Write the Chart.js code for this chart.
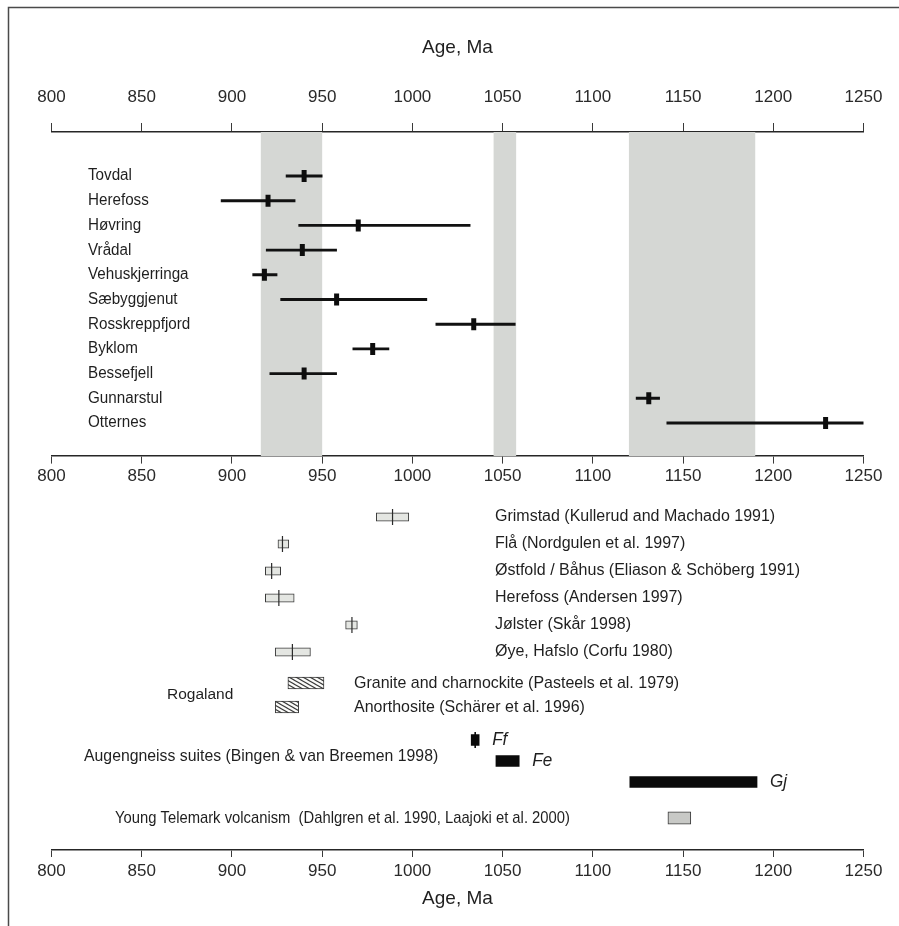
<!DOCTYPE html>
<html>
<head>
<meta charset="utf-8">
<script src="https://cdn.jsdelivr.net/npm/chart.js@4/dist/chart.umd.min.js"></script>
<style>
  html, body { margin: 0; padding: 0; background: #fff; }
  #wrap { width: 899px; height: 926px; }
</style>
</head>
<body>
<div id="wrap"><canvas id="chart" width="899" height="926"></canvas></div>
<script>
// ---- Age axis (Ma) ----
const AGE_MIN = 800;
const AGE_MAX = 1250;
const AGE_STEP = 50;

// ---- Dated intrusions: age with lower / upper limit of the error bar (Ma) ----
const samples = ['Tovdal', 'Herefoss', 'Høvring', 'Vrådal', 'Vehuskjerringa', 'Sæbyggjenut',
                 'Rosskreppfjord', 'Byklom', 'Bessefjell', 'Gunnarstul', 'Otternes'];
const sampleAge  = [940, 920, 970, 939, 918, 958, 1034, 978, 940, 1131, 1229];
const sampleLow  = [930, 894, 937, 919, 911.5, 927, 1013, 967, 921, 1124, 1141];
const sampleHigh = [950, 935, 1032, 958, 925, 1008, 1057, 987, 958, 1137, 1251];

// ---- Shaded age clusters (Ma) ----
const bandStart = [916, 1045, 1120];
const bandEnd   = [950, 1057.5, 1190];

// ---- Published ages: range box and central value (Ma) ----
const refLabels = ['Grimstad (Kullerud and Machado 1991)', 'Flå (Nordgulen et al. 1997)',
                   'Østfold / Båhus (Eliason & Schöberg 1991)', 'Herefoss (Andersen 1997)',
                   'Jølster (Skår 1998)', 'Øye, Hafslo (Corfu 1980)'];
const refAge  = [989, 928, 922, 926, 966.5, 933.5];
const refLow  = [980, 925.5, 918.5, 918.5, 963, 924];
const refHigh = [998, 931.5, 927, 934.5, 969.5, 943.5];

// ---- Rogaland ----
const rogLabels = ['Granite and charnockite (Pasteels et al. 1979)', 'Anorthosite (Schärer et al. 1996)'];
const rogLow  = [931, 924];
const rogHigh = [951, 937];

// ---- Augengneiss suites ----
const augLabels = ['Ff', 'Fe', 'Gj'];
const augLow  = [1032.6, 1046.3, 1120.5];
const augHigh = [1037, 1059.2, 1191];

// ---- Young Telemark volcanism ----
const ytLabel = 'Young Telemark volcanism  (Dahlgren et al. 1990, Laajoki et al. 2000)';
const ytLow  = [1141.6];
const ytHigh = [1154.3];

// ---- Layout (pixels) ----
const W = 899, H = 926;
const AREA_TOP = 132, AREA_BOTTOM = 850, MID_AXIS = 456;
const FONT = "'Liberation Sans', Arial, Helvetica, sans-serif";
const INK = '#1f1f1f';

// hidden row scale: row 0 sits at firstPx, following rows every `step` pixels
function rowScale(firstPx, step) {
  const min = -(firstPx - AREA_TOP) / step;
  return {
    type: 'linear', display: false, reverse: true, offset: false,
    min, max: min + (AREA_BOTTOM - AREA_TOP) / step
  };
}

function ageAxis(position, tickLength, padding, extra) {
  return Object.assign({
    type: 'linear',
    position,
    offset: false,
    min: AGE_MIN,
    max: AGE_MAX,
    ticks: {
      stepSize: AGE_STEP,
      autoSkip: false,
      maxRotation: 0,
      padding,
      color: '#2a2a2a',
      font: { family: FONT, size: 17 },
      callback: (v) => String(v)
    },
    grid: { display: true, drawOnChartArea: false, drawTicks: true, tickLength, color: '#3a3a3a', lineWidth: 1 },
    border: { display: true, color: '#262626', width: 1.6 }
  }, extra || {});
}

// horizontal range bars centred on their own row, fixed pixel thickness
function rangeBars(xAxisID, yAxisID, data, thickness, style) {
  return Object.assign({
    type: 'bar', indexAxis: 'y', xAxisID, yAxisID, data,
    grouped: false, categoryPercentage: 1, barPercentage: 1, maxBarThickness: thickness,
    borderWidth: 0, borderSkipped: false, order: 3
  }, style);
}

// diagonal hatch fill
function hatchPattern(ctx) {
  const w = 7, h = 4;
  const c = document.createElement('canvas');
  c.width = w; c.height = h;
  const g = c.getContext('2d');
  g.fillStyle = '#fbfbf9';
  g.fillRect(0, 0, w, h);
  g.strokeStyle = '#3a3a3a';
  g.lineWidth = 1.1;
  g.beginPath();
  for (const dx of [-w, 0, w]) {
    g.moveTo(dx - w * 0.3, -h * 0.3);
    g.lineTo(dx + w * 1.3, h * 1.3);
  }
  g.stroke();
  return ctx.createPattern(c, 'repeat');
}

function drawText(ctx, text, x, y, size, o) {
  o = o || {};
  ctx.save();
  ctx.font = (o.italic ? 'italic ' : '') + size + 'px ' + FONT;
  ctx.fillStyle = INK;
  ctx.textAlign = 'left';
  ctx.textBaseline = 'middle';
  ctx.translate(x, y);
  ctx.scale(o.squash || 1, 1);
  ctx.fillText(text, 0, 0);
  ctx.restore();
}

const canvas = document.getElementById('chart');
const ctx = canvas.getContext('2d');
const hatch = hatchPattern(ctx);

const framePlugin = {
  id: 'frame',
  beforeDraw(chart) {
    const c = chart.ctx;
    c.save();
    c.fillStyle = '#fff';
    c.fillRect(0, 0, W, H);
    c.strokeStyle = '#4a4a4a';
    c.lineWidth = 1.5;
    c.beginPath();
    c.moveTo(8.5, H);
    c.lineTo(8.5, 7.5);
    c.lineTo(W, 7.5);
    c.stroke();
    c.restore();
  }
};

// shaded age clusters across the upper panel, placed by the age scale
const bandPlugin = {
  id: 'bands',
  beforeDatasetsDraw(chart) {
    const c = chart.ctx;
    const x = chart.scales.xTop;
    const top = chart.chartArea.top;
    const bottom = chart.scales.yPx.getPixelForValue(MID_AXIS);
    c.save();
    c.fillStyle = '#d5d7d4';
    bandStart.forEach((a, i) => {
      const x0 = x.getPixelForValue(a);
      const x1 = x.getPixelForValue(bandEnd[i]);
      c.fillRect(x0, top, x1 - x0, bottom - top);
    });
    c.restore();
  }
};

const labelPlugin = {
  id: 'labels',
  afterDatasetsDraw(chart) {
    const c = chart.ctx;
    const s = chart.scales;
    samples.forEach((t, i) => drawText(c, t, 88, s.yRows.getPixelForValue(i), 16, { squash: 0.95 }));
    refLabels.forEach((t, i) => drawText(c, t, 495, s.yRefs.getPixelForValue(i), 16));
    rogLabels.forEach((t, i) => drawText(c, t, 354, s.yRog.getPixelForValue(i), 17, { squash: 0.94 }));
    drawText(c, 'Rogaland', 167, s.yRog.getPixelForValue(0.5), 15.5);
    drawText(c, 'Augengneiss suites (Bingen & van Breemen 1998)', 84, s.yAug.getPixelForValue(0.8), 17, { squash: 0.93 });
    augLabels.forEach((t, i) =>
      drawText(c, t, s.xBot.getPixelForValue(augHigh[i]) + 13, s.yAug.getPixelForValue(i), 18, { italic: true, squash: 0.95 }));
    drawText(c, ytLabel, 115, s.yYT.getPixelForValue(0), 17, { squash: 0.87 });
  }
};

const rows = (n) => Array.from({ length: n }, (_, i) => i);

new Chart(canvas, {
  type: 'bar',
  data: {
    datasets: [
      rangeBars('xTop', 'yRows',
        rows(samples.length).map((i) => ({ x: [sampleLow[i], sampleHigh[i]], y: i })),
        2.2, { backgroundColor: '#111' }),
      {
        type: 'scatter', xAxisID: 'xTop', yAxisID: 'yRows',
        data: rows(samples.length).map((i) => ({ x: sampleAge[i], y: i })),
        pointStyle: 'line', rotation: 90, radius: 6, borderWidth: 5,
        borderColor: '#0d0d0d', backgroundColor: '#0d0d0d', order: 1
      },
      rangeBars('xBot', 'yRefs',
        rows(refLabels.length).map((i) => ({ x: [refLow[i], refHigh[i]], y: i })),
        8.5, { backgroundColor: '#e4e6e2', borderColor: '#3a3a3a', borderWidth: 1 }),
      {
        type: 'scatter', xAxisID: 'xBot', yAxisID: 'yRefs',
        data: rows(refLabels.length).map((i) => ({ x: refAge[i], y: i })),
        pointStyle: 'line', rotation: 90, radius: 8, borderWidth: 1.2,
        borderColor: '#2a2a2a', order: 1
      },
      rangeBars('xBot', 'yRog',
        rows(rogLabels.length).map((i) => ({ x: [rogLow[i], rogHigh[i]], y: i })),
        12, { backgroundColor: hatch, borderColor: '#3a3a3a', borderWidth: 1 }),
      rangeBars('xBot', 'yAug',
        rows(augLabels.length).map((i) => ({ x: [augLow[i], augHigh[i]], y: i })),
        11, { backgroundColor: '#0a0a0a' }),
      {
        // central tick on the Ff bar
        type: 'scatter', xAxisID: 'xBot', yAxisID: 'yAug',
        data: [{ x: (augLow[0] + augHigh[0]) / 2, y: 0 }],
        pointStyle: 'line', rotation: 90, radius: 8, borderWidth: 1.6,
        borderColor: '#0a0a0a', order: 1
      },
      rangeBars('xBot', 'yYT',
        ytLow.map((a, i) => ({ x: [a, ytHigh[i]], y: i })),
        12.5, { backgroundColor: '#c8c9c6', borderColor: '#3a3a3a', borderWidth: 1 })
    ]
  },
  options: {
    responsive: false,
    animation: false,
    devicePixelRatio: 1,
    indexAxis: 'y',
    layout: { padding: { top: 0, bottom: 0, left: 51.5, right: 35.5 } },
    plugins: { legend: { display: false }, tooltip: { enabled: false } },
    events: [],
    scales: {
      xTop: ageAxis('top', 9, 15.8, {
        title: { display: true, text: 'Age, Ma', color: INK, font: { family: FONT, size: 19 }, padding: { top: 36.6, bottom: 0 } },
        afterFit: (sc) => { sc.height = AREA_TOP; }
      }),
      xMid: ageAxis({ yPx: MID_AXIS }, 7, 2.8),
      xBot: ageAxis('bottom', 7, 3.8, {
        title: { display: true, text: 'Age, Ma', color: INK, font: { family: FONT, size: 19 }, padding: { top: 0, bottom: 15.6 } },
        afterFit: (sc) => { sc.height = H - AREA_BOTTOM; }
      }),
      yPx: { type: 'linear', display: false, reverse: true, offset: false, min: AREA_TOP, max: AREA_BOTTOM },
      yRows: rowScale(176, 24.7),
      yRefs: rowScale(517, 27),
      yRog: rowScale(683, 24),
      yAug: rowScale(740, 21),
      yYT: rowScale(818, 20)
    }
  },
  plugins: [framePlugin, bandPlugin, labelPlugin]
});
</script>
</body>
</html>
